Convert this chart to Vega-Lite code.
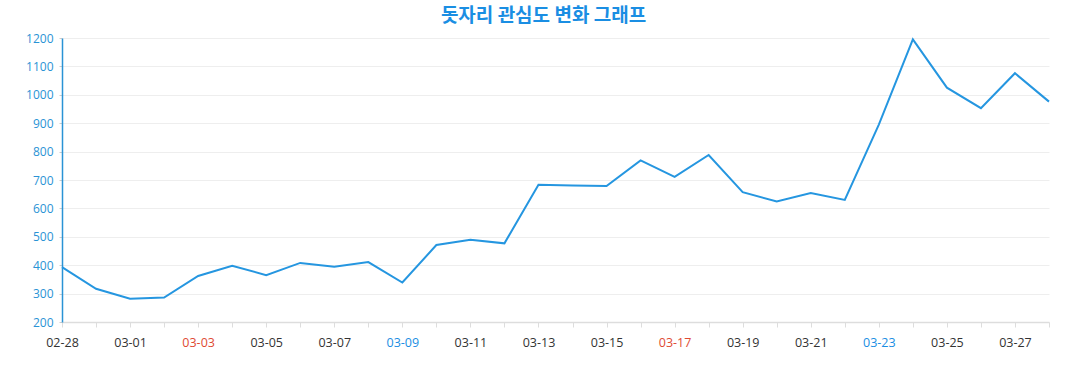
{
  "$schema": "https://vega.github.io/schema/vega-lite/v6.json",
  "width": 987,
  "height": 284,
  "autosize": {"type": "none"},
  "padding": {"left": 62, "top": 38, "right": 28, "bottom": 68},
  "background": "white",
  "title": {
    "text": "돗자리 관심도 변화 그래프",
    "font": "Noto Sans CJK KR",
    "fontSize": 19,
    "fontWeight": "bold",
    "color": "#1a8ee3",
    "anchor": "middle",
    "dx": -12,
    "offset": 6
  },
  "config": {
    "view": {"stroke": null}
  },
  "data": {
    "values": [
      {"date": "02-28", "value": 393},
      {"date": "02-29", "value": 317},
      {"date": "03-01", "value": 282},
      {"date": "03-02", "value": 286},
      {"date": "03-03", "value": 362},
      {"date": "03-04", "value": 398},
      {"date": "03-05", "value": 365},
      {"date": "03-06", "value": 408},
      {"date": "03-07", "value": 395},
      {"date": "03-08", "value": 411},
      {"date": "03-09", "value": 339},
      {"date": "03-10", "value": 471},
      {"date": "03-11", "value": 490},
      {"date": "03-12", "value": 477},
      {"date": "03-13", "value": 683},
      {"date": "03-14", "value": 681},
      {"date": "03-15", "value": 679},
      {"date": "03-16", "value": 769},
      {"date": "03-17", "value": 711},
      {"date": "03-18", "value": 788},
      {"date": "03-19", "value": 657},
      {"date": "03-20", "value": 624},
      {"date": "03-21", "value": 654},
      {"date": "03-22", "value": 630},
      {"date": "03-23", "value": 895},
      {"date": "03-24", "value": 1195},
      {"date": "03-25", "value": 1025},
      {"date": "03-26", "value": 953},
      {"date": "03-27", "value": 1076},
      {"date": "03-28", "value": 976}
    ]
  },
  "mark": {"type": "line", "color": "#2596e0", "strokeWidth": 2},
  "encoding": {
    "x": {
      "field": "date",
      "type": "ordinal",
      "sort": null,
      "scale": {"type": "point", "padding": 0},
      "axis": {
        "title": null,
        "labelAngle": 0,
        "labelFont": "Open Sans",
        "labelFontSize": 12.5,
        "labelPadding": 9,
        "labelExpr": "indexof(['02-28','03-01','03-03','03-05','03-07','03-09','03-11','03-13','03-15','03-17','03-19','03-21','03-23','03-25','03-27'], datum.value) >= 0 ? datum.value : ''",
        "labelColor": {
          "condition": [
            {"test": "datum.value == '03-03' || datum.value == '03-17'", "value": "#e04a33"},
            {"test": "datum.value == '03-09' || datum.value == '03-23'", "value": "#1a8ee3"}
          ],
          "value": "#333333"
        },
        "labelOverlap": false,
        "domainColor": "#dddddd",
        "domainWidth": 1.5,
        "tickColor": "#dddddd",
        "tickSize": 5,
        "grid": false
      }
    },
    "y": {
      "field": "value",
      "type": "quantitative",
      "scale": {"domain": [200, 1200], "nice": false, "zero": false},
      "axis": {
        "title": null,
        "format": "d",
        "values": [200, 300, 400, 500, 600, 700, 800, 900, 1000, 1100, 1200],
        "labelFont": "Open Sans",
        "labelFontSize": 12,
        "labelColor": "#2a93d5",
        "labelPadding": 6,
        "domainColor": "#2a93d5",
        "domainWidth": 1.5,
        "tickColor": "#cccccc",
        "tickSize": 3,
        "gridColor": "#eeeeee",
        "gridWidth": 1
      }
    }
  }
}
